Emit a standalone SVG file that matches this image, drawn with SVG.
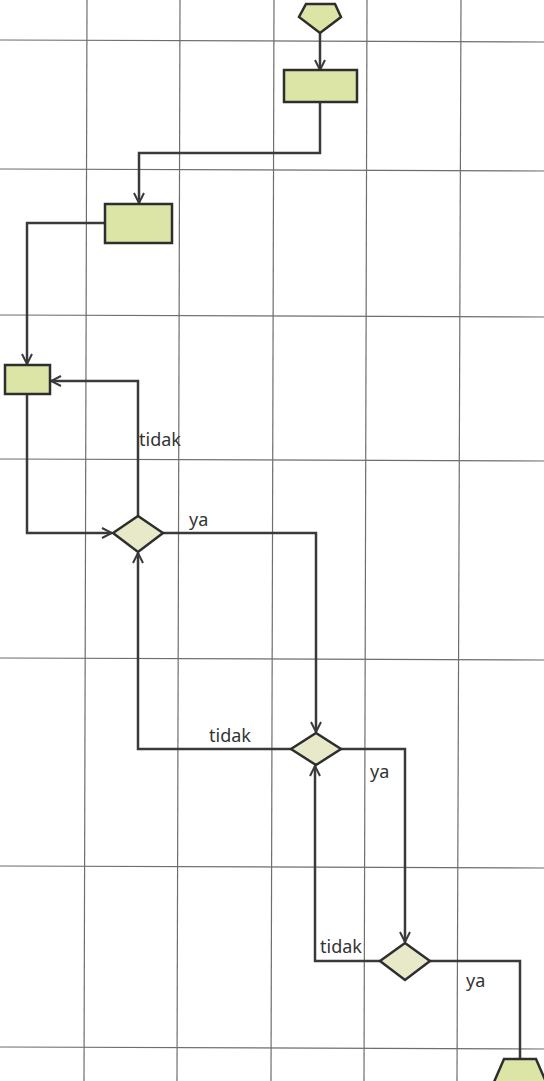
<svg xmlns="http://www.w3.org/2000/svg" width="544" height="1081" viewBox="0 0 544 1081">
<style>
.grid line{stroke:#6e6e6e;stroke-width:1.2}
.node{stroke:#2e2e2e;stroke-width:2.5;stroke-linejoin:miter}
.proc{fill:#dde5a6}
.dec{fill:#e7e9c9}
.conn path{fill:none;stroke:#3a3a3a;stroke-width:2.5}
.lbl{font-family:"Noto Sans","Liberation Sans",sans-serif;font-size:18px;fill:#333}
</style>
<defs>
<marker id="arr" viewBox="0 0 12 12" refX="11" refY="6" markerWidth="12" markerHeight="12" markerUnits="userSpaceOnUse" orient="auto">
<path d="M1,1 L11,6 L1,11" fill="none" stroke="#3a3a3a" stroke-width="2"/>
</marker>
</defs>
<rect width="544" height="1081" fill="#fff"/>
<g class="grid">
<line x1="87" y1="0" x2="84" y2="1081"/>
<line x1="180" y1="0" x2="177" y2="1081"/>
<line x1="274" y1="0" x2="271" y2="1081"/>
<line x1="367" y1="0" x2="364" y2="1081"/>
<line x1="461" y1="0" x2="457" y2="1081"/>
<line x1="0" y1="40" x2="544" y2="42"/>
<line x1="0" y1="169" x2="544" y2="171"/>
<line x1="0" y1="315" x2="544" y2="317"/>
<line x1="0" y1="459" x2="544" y2="461"/>
<line x1="0" y1="658" x2="544" y2="660"/>
<line x1="0" y1="866" x2="544" y2="868"/>
<line x1="0" y1="1047" x2="544" y2="1049"/>
</g>
<g class="conn">
<path d="M320,33 V70" marker-end="url(#arr)"/>
<path d="M320,102 V153 H139 V203" marker-end="url(#arr)"/>
<path d="M105,223 H27 V364" marker-end="url(#arr)"/>
<path d="M138,516 V381 H51" marker-end="url(#arr)"/>
<path d="M27,394 V533 H112" marker-end="url(#arr)"/>
<path d="M163,533 H316 V732" marker-end="url(#arr)"/>
<path d="M291,749 H138 V553" marker-end="url(#arr)"/>
<path d="M341,749 H405 V942" marker-end="url(#arr)"/>
<path d="M380,961 H315 V766" marker-end="url(#arr)"/>
<path d="M430,961 H520 V1059"/>
</g>
<g id="start"><polygon class="node proc" points="306,4 335,4 341,17 320,33 299,17"/></g>
<g id="proc1"><rect class="node proc" x="284" y="70" width="73" height="32"/></g>
<g id="proc2"><rect class="node proc" x="105" y="204" width="67" height="39"/></g>
<g id="proc3"><rect class="node proc" x="5" y="365" width="45" height="29"/></g>
<g id="dec1"><polygon class="node dec" points="113,533 138,516 163,533 138,552"/></g>
<g id="dec2"><polygon class="node dec" points="291,749 316,733 341,749 316,765"/></g>
<g id="dec3"><polygon class="node dec" points="380,961 405,943 430,961 405,980"/></g>
<g id="end"><polygon class="node proc" points="504,1059 536,1059 546,1082 520,1100 494,1082"/></g>
<g id="labels">
<text class="lbl" x="139" y="446">tidak</text>
<text class="lbl" x="189" y="526">ya</text>
<text class="lbl" x="209" y="742">tidak</text>
<text class="lbl" x="370" y="778">ya</text>
<text class="lbl" x="320" y="953">tidak</text>
<text class="lbl" x="466" y="987">ya</text>
</g>
</svg>
